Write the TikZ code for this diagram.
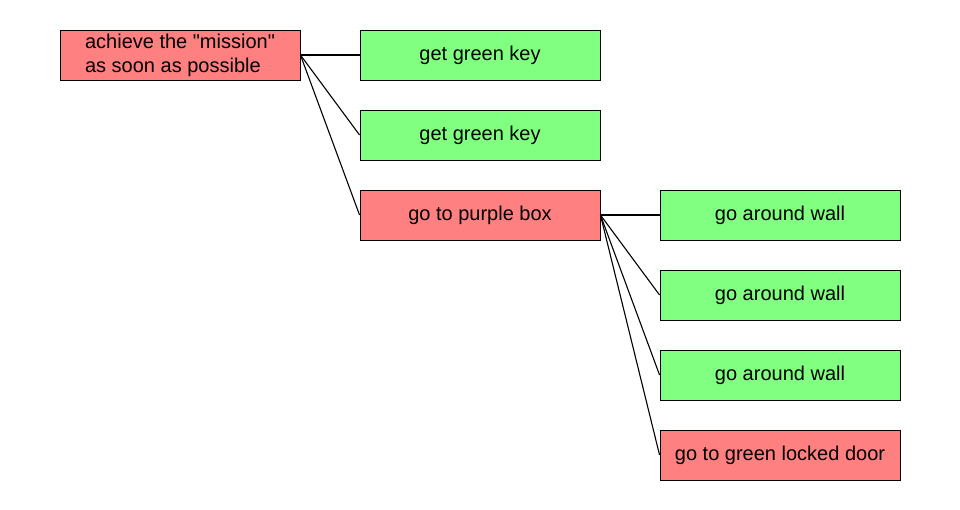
\documentclass[tikz,border=0pt]{standalone}
\usepackage{fontspec}
\setmainfont{Liberation Sans}
\definecolor{goalred}{HTML}{FF8080}
\definecolor{goalgreen}{HTML}{80FF80}

\begin{document}
\begin{tikzpicture}[x=1pt,y=-1pt,
  goal/.style={draw=black,line width=0.9pt,minimum width=240pt,minimum height=50pt,inner sep=0pt,font=\fontsize{20}{24}\selectfont},
  open/.style={goal,fill=goalred},
  done/.style={goal,fill=goalgreen},
  link/.style={line width=1.1pt}]
\useasboundingbox (0,0) rectangle (960,510);

\node[open,align=left] (mission) at (180,55) {achieve the \textquotedbl mission\textquotedbl\\as soon as possible};
\node[done] (key1) at (480,55) {get green key};
\node[done] (key2) at (480,135) {get green key};
\node[open] (purple) at (480,215) {go to purple box};

\node[done] (wall1) at (780,215) {go around wall};
\node[done] (wall2) at (780,295) {go around wall};
\node[done] (wall3) at (780,375) {go around wall};
\node[open] (door) at (780,455) {go to green locked door};

\draw[link] (mission.east) -- (key1.west);
\draw[link] (mission.east) -- (key2.west);
\draw[link] (mission.east) -- (purple.west);

\draw[link] (purple.east) -- (wall1.west);
\draw[link] (purple.east) -- (wall2.west);
\draw[link] (purple.east) -- (wall3.west);
\draw[link] (purple.east) -- (door.west);

\end{tikzpicture}
\end{document}
